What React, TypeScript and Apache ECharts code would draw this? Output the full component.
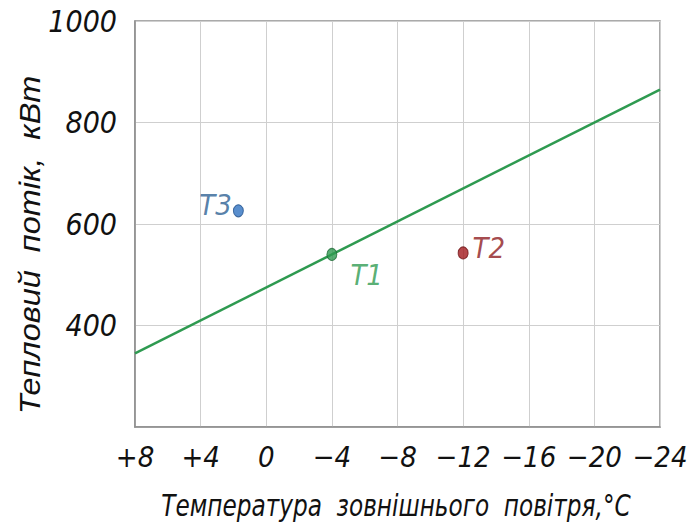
import React, { useEffect, useRef } from "react";
import * as echarts from "echarts";

// Outdoor temperature axis, reversed: warm on the left, cold on the right
const xTicks = [8, 4, 0, -4, -8, -12, -16, -20, -24];
const xTickLabels = ["+8", "+4", "0", "−4", "−8", "−12", "−16", "−20", "−24"];
const yTicks = [200, 400, 600, 800, 1000];
const yTickLabels = ["", "400", "600", "800", "1000"];

// Heat demand line (temperature, kW)
const lineTemps = [8, -24];
const lineValues = [345, 865];

// Marked operating points
const pointNames = ["T1", "T2", "T3"];
const pointTemps = [-4, -12, 1.7];
const pointValues = [540, 543, 626];
const pointColors = ["#2e9a50", "#a3191d", "#2f72c0"];
const pointBorders = ["#1f6b37", "#6e1013", "#1f4f8a"];
const labelColors = ["#2e9a50", "#8e1a1e", "#2c5f93"];

const FONT = "'DejaVu Sans Condensed', 'Liberation Sans Narrow', sans-serif";
const TITLE_FONT = "'Liberation Sans', Arial, sans-serif";

export default function App() {
  const ref = useRef<HTMLDivElement>(null);

  useEffect(() => {
    if (!ref.current) return;
    const chart = echarts.init(ref.current, null, { renderer: "svg" });

    const labelFor = (ticks: number[], labels: string[]) => (v: number) => {
      const i = ticks.indexOf(v);
      return i >= 0 ? labels[i] : "";
    };

    const pointLabelPos: any[] = [
      { position: [24, 13] },
      { position: "right", distance: 4, offset: [0, -5] },
      { position: "left", distance: 3, offset: [2, -6] },
    ];

    chart.setOption({
      animation: false,
      backgroundColor: "#ffffff",
      grid: {
        left: 135,
        right: 35,
        top: 21,
        bottom: 100,
        show: true,
        borderColor: "#8e8e8e",
        borderWidth: 1.5,
        backgroundColor: "transparent",
      },
      xAxis: {
        type: "value",
        inverse: true,
        min: -24,
        max: 8,
        interval: 4,
        axisLine: { show: true, onZero: false, lineStyle: { color: "#8e8e8e", width: 1.5 } },
        axisTick: { show: false },
        splitLine: { show: true, lineStyle: { color: "#cfcfcf", width: 1 } },
        axisLabel: {
          margin: 15,
          fontFamily: FONT,
          fontStyle: "italic",
          fontSize: 29,
          color: "#111111",
          formatter: labelFor(xTicks, xTickLabels),
        },
      },
      yAxis: {
        type: "value",
        min: 200,
        max: 1000,
        interval: 200,
        axisLine: { show: true, onZero: false, lineStyle: { color: "#8e8e8e", width: 1.5 } },
        axisTick: { show: false },
        splitLine: { show: true, lineStyle: { color: "#cfcfcf", width: 1 } },
        axisLabel: {
          margin: 18,
          fontFamily: FONT,
          fontStyle: "italic",
          fontSize: 30,
          color: "#111111",
          formatter: labelFor(yTicks, yTickLabels),
        },
      },
      graphic: [
        {
          type: "text",
          x: 30,
          y: 245,
          rotation: Math.PI / 2,
          scaleX: 1.12,
          style: {
            text: "Тепловий  потік,  кВт",
            fontFamily: TITLE_FONT,
            fontStyle: "italic",
            fontSize: 29,
            fill: "#111111",
            align: "center",
            verticalAlign: "middle",
          },
        },
        {
          type: "text",
          x: 396,
          y: 506,
          scaleX: 0.86,
          style: {
            text: "Температура  зовнішнього  повітря,°C",
            fontFamily: FONT,
            fontStyle: "italic",
            fontSize: 30,
            fill: "#111111",
            align: "center",
            verticalAlign: "middle",
          },
        },
      ],
      series: [
        {
          type: "line",
          data: lineTemps.map((t, i) => [t, lineValues[i]]),
          showSymbol: false,
          lineStyle: { color: "#2e9a50", width: 2.5 },
          z: 2,
        },
        {
          type: "scatter",
          z: 3,
          data: pointNames.map((n, i) => ({
            name: n,
            value: [pointTemps[i], pointValues[i]],
            symbolSize: [10, 12],
            itemStyle: {
              color: pointColors[i],
              borderColor: pointBorders[i],
              borderWidth: 1,
            },
            label: {
              show: true,
              formatter: "{b}",
              fontFamily: FONT,
              fontStyle: "italic",
              fontSize: 29,
              color: labelColors[i],
              ...pointLabelPos[i],
            },
          })),
        },
      ],
    });

    return () => chart.dispose();
  }, []);

  return (
    <div
      ref={ref}
      style={{ position: "fixed", left: 0, top: 0, width: 695, height: 527 }}
    />
  );
}
